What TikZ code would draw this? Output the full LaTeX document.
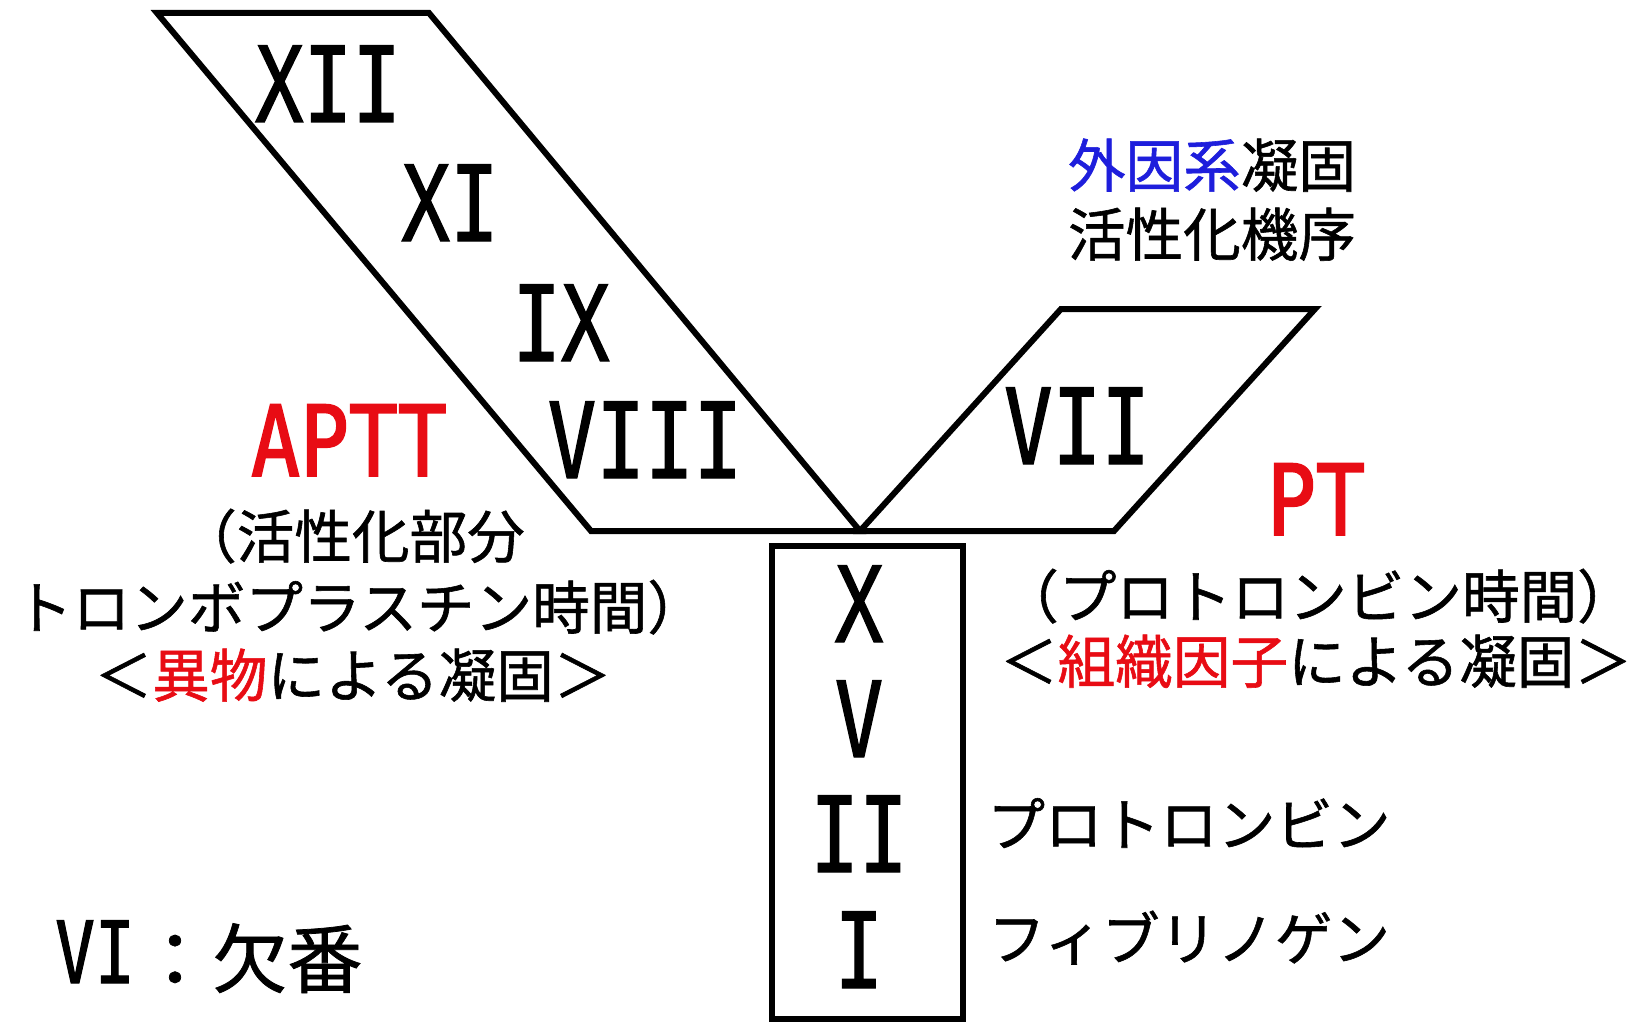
\documentclass[tikz,border=0pt]{standalone}
\usepackage{fontspec}
\newfontfamily\jp{Noto Sans CJK JP}[FakeBold=1]
\newfontfamily\rmn{DejaVu Sans Mono}[FakeStretch=0.77,FakeBold=1.2]
\newfontfamily\latn{DejaVu Sans Mono}[FakeStretch=0.83,FakeBold=1.8]
\definecolor{rd}{RGB}{232,12,20}
\definecolor{bl}{RGB}{30,30,220}
\begin{document}
\begin{tikzpicture}[x=1pt,y=-1pt,
  shp/.style={line width=6pt,line join=miter},
  num/.style={anchor=base,inner sep=0pt,font=\rmn\fontsize{105}{105}\selectfont},
  lat/.style={anchor=base,inner sep=0pt,text=rd,font=\latn\fontsize{98}{98}\selectfont},
  jtxt/.style={anchor=base,inner sep=0pt,font=\jp\fontsize{57.6}{57.6}\selectfont}]
\useasboundingbox (0,0) rectangle (1639,1022);
% shapes
\draw[shp] (157,13) -- (429,13) -- (860,531) -- (591,531) -- cycle;
\draw[shp] (860,531) -- (1061,309) -- (1315,309) -- (1114,531) -- cycle;
\draw[shp] (772,546) rectangle (963,1019);
% numerals
\node[num] (n12) at (328,122) {XII};
\node[num] (n11) at (450,241) {XI};
\node[num] (n9) at (561,361) {IX};
\node[num] (n8) at (645,478) {VIII};
\node[num] (n7) at (1077,464) {VII};
\node[num] (n10) at (859,642) {X};
\node[num] (n5) at (859,757) {V};
\node[num] (n2) at (859,872) {II};
\node[num] (n1) at (859,988) {I};
% labels
\node[jtxt] (ext1) at (1212,187) {\textcolor{bl}{外因系}凝固};
\node[jtxt] (ext2) at (1212,256) {活性化機序};
\node[lat] (aptt) at (349,476) {APTT};
\node[jtxt] (a1) at (352,558) {（活性化部分};
\node[jtxt] (a2) at (360,629) {トロンボプラスチン時間）};
\node[jtxt] (a3) at (353,697) {＜\textcolor{rd}{異物}による凝固＞};
\node[lat] (pt) at (1316,535) {PT};
\node[jtxt] (p1) at (1318,618) {（プロトロンビン時間）};
\node[jtxt] (p2) at (1316,683) {＜\textcolor{rd}{組織因子}による凝固＞};
\node[jtxt] (f2) at (1189,846) {プロトロンビン};
\node[jtxt] (f1) at (1189,960) {フィブリノゲン};
\node[anchor=base,inner sep=0pt,font=\rmn\fontsize{86}{86}\selectfont] (vi) at (95,983) {VI};
\node[anchor=base,inner sep=0pt,font=\jp\fontsize{75}{75}\selectfont] (vin) at (250,987) {：欠番};
\end{tikzpicture}
\end{document}
